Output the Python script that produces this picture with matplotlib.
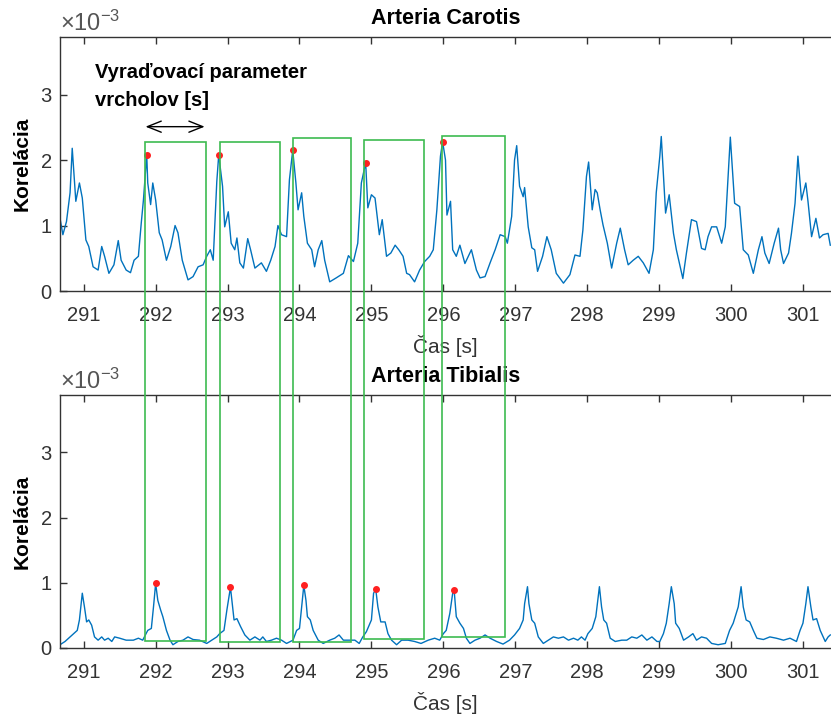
"""
Korelácia – Arteria Carotis vs. Arteria Tibialis, detekcia vrcholov.
Hodnoty odčítané z grafu (jednotky x10^-3).
"""

import matplotlib
matplotlib.use("Agg")
import matplotlib.pyplot as plt
from matplotlib.patches import Rectangle

plt.rcParams["font.family"] = ["Liberation Sans", "DejaVu Sans"]
plt.rcParams["mathtext.fontset"] = "custom"
plt.rcParams["mathtext.rm"] = "Liberation Sans"
plt.rcParams["mathtext.it"] = "Liberation Sans:italic"

# ----------------------------------------------------------------------
# dáta (čas [s], korelácia x10^-3)
# ----------------------------------------------------------------------
car_t = [290.67, 290.71, 290.76, 290.81, 290.84, 290.89, 290.94, 290.98, 291.03, 291.07,
         291.13, 291.20, 291.25, 291.29, 291.35, 291.42, 291.48, 291.52, 291.59, 291.65,
         291.70, 291.76, 291.80, 291.83, 291.876, 291.89, 291.93, 291.96, 292.00, 292.05,
         292.09, 292.15, 292.21, 292.27, 292.31, 292.37, 292.45, 292.52, 292.59, 292.66,
         292.71, 292.76, 292.80, 292.85, 292.877, 292.93, 292.96, 293.01, 293.05, 293.10,
         293.13, 293.17, 293.22, 293.28, 293.32, 293.38, 293.47, 293.54, 293.60, 293.66,
         293.70, 293.75, 293.82, 293.86, 293.906, 293.95, 293.98, 294.03, 294.06, 294.11,
         294.17, 294.21, 294.26, 294.31, 294.35, 294.42, 294.51, 294.61, 294.68, 294.75,
         294.81, 294.86, 294.92, 294.95, 295.00, 295.05, 295.11, 295.15, 295.21, 295.27,
         295.33, 295.38, 295.44, 295.49, 295.53, 295.60, 295.67, 295.74, 295.81, 295.86,
         295.91, 295.96, 295.99, 296.03, 296.05, 296.10, 296.13, 296.18, 296.23, 296.30,
         296.39, 296.46, 296.51, 296.58, 296.65, 296.72, 296.79, 296.86, 296.89, 296.95,
         296.99, 297.02, 297.06, 297.11, 297.13, 297.18, 297.23, 297.27, 297.31, 297.38,
         297.44, 297.50, 297.57, 297.67, 297.76, 297.83, 297.90, 297.94, 297.99, 298.02,
         298.07, 298.11, 298.14, 298.18, 298.22, 298.28, 298.34, 298.41, 298.46, 298.52,
         298.57, 298.64, 298.71, 298.78, 298.86, 298.92, 298.96, 299.01, 299.03, 299.09,
         299.14, 299.20, 299.24, 299.33, 299.38, 299.45, 299.52, 299.59, 299.64, 299.68,
         299.73, 299.80, 299.87, 299.92, 299.96, 299.99, 300.05, 300.12, 300.17, 300.24,
         300.31, 300.38, 300.43, 300.47, 300.53, 300.60, 300.66, 300.69, 300.73, 300.80,
         300.84, 300.89, 300.93, 300.98, 301.04, 301.07, 301.12, 301.18, 301.23, 301.28,
         301.35, 301.38]
car_v = [1.11, 0.86, 1.06, 1.50, 2.18, 1.37, 1.65, 1.42, 0.78, 0.68,
         0.37, 0.32, 0.68, 0.53, 0.27, 0.40, 0.77, 0.47, 0.32, 0.28,
         0.47, 0.53, 1.04, 1.39, 2.08, 1.65, 1.32, 1.65, 1.39, 0.89,
         0.78, 0.47, 0.68, 1.00, 0.89, 0.47, 0.17, 0.22, 0.37, 0.40,
         0.53, 0.63, 0.47, 1.67, 2.08, 1.60, 0.98, 1.21, 0.73, 0.63,
         0.81, 0.43, 0.35, 0.80, 0.63, 0.35, 0.43, 0.30, 0.47, 0.68,
         1.00, 0.86, 0.83, 1.70, 2.15, 1.65, 1.24, 1.50, 1.14, 0.73,
         0.63, 0.37, 0.63, 0.77, 0.47, 0.14, 0.20, 0.27, 0.54, 0.45,
         0.73, 1.65, 1.96, 1.27, 1.47, 1.42, 0.86, 1.09, 0.53, 0.58,
         0.70, 0.63, 0.53, 0.27, 0.25, 0.14, 0.32, 0.45, 0.53, 0.63,
         1.24, 2.06, 2.28, 2.00, 1.16, 1.37, 0.63, 0.53, 0.70, 0.42,
         0.63, 0.32, 0.20, 0.22, 0.43, 0.63, 0.86, 0.83, 0.73, 1.14,
         2.00, 2.22, 1.60, 1.44, 1.58, 0.98, 0.66, 0.63, 0.30, 0.53,
         0.83, 0.63, 0.27, 0.12, 0.25, 0.55, 0.53, 0.93, 1.75, 1.97,
         1.24, 1.55, 1.50, 1.24, 1.01, 0.73, 0.35, 0.73, 0.96, 0.63,
         0.40, 0.47, 0.53, 0.43, 0.27, 0.63, 1.50, 2.06, 2.36, 1.19,
         1.47, 0.88, 0.63, 0.19, 0.58, 1.09, 1.06, 0.65, 0.63, 0.83,
         0.98, 0.98, 0.73, 0.98, 1.75, 2.35, 1.34, 1.29, 0.63, 0.55,
         0.27, 0.63, 0.83, 0.58, 0.42, 0.73, 0.96, 0.63, 0.42, 0.58,
         0.88, 1.34, 2.06, 1.39, 1.65, 1.37, 0.83, 1.11, 0.81, 0.86,
         0.88, 0.70]

tib_t = [290.67, 290.74, 290.81, 290.86, 290.91, 290.94, 290.98, 291.01, 291.04, 291.07,
         291.11, 291.15, 291.20, 291.25, 291.29, 291.34, 291.39, 291.43, 291.50, 291.59,
         291.69, 291.76, 291.82, 291.89, 291.94, 291.97, 292.00, 292.03, 292.07, 292.10,
         292.15, 292.20, 292.24, 292.31, 292.38, 292.45, 292.52, 292.61, 292.71, 292.78,
         292.85, 292.89, 292.95, 292.99, 293.04, 293.06, 293.09, 293.13, 293.18, 293.24,
         293.31, 293.38, 293.45, 293.49, 293.54, 293.61, 293.68, 293.75, 293.82, 293.91,
         293.96, 294.00, 294.03, 294.06, 294.09, 294.11, 294.15, 294.19, 294.26, 294.33,
         294.42, 294.49, 294.55, 294.61, 294.70, 294.77, 294.83, 294.88, 294.93, 295.00,
         295.03, 295.06, 295.09, 295.13, 295.19, 295.23, 295.28, 295.35, 295.42, 295.51,
         295.60, 295.69, 295.79, 295.88, 295.95, 296.00, 296.04, 296.09, 296.13, 296.15,
         296.18, 296.23, 296.28, 296.32, 296.37, 296.44, 296.51, 296.58, 296.65, 296.74,
         296.83, 296.92, 296.99, 297.06, 297.11, 297.13, 297.17, 297.19, 297.23, 297.27,
         297.32, 297.39, 297.46, 297.53, 297.60, 297.67, 297.74, 297.81, 297.87, 297.92,
         297.97, 298.01, 298.07, 298.12, 298.17, 298.20, 298.23, 298.27, 298.32, 298.39,
         298.48, 298.55, 298.62, 298.69, 298.76, 298.83, 298.90, 298.97, 299.01, 299.06,
         299.10, 299.14, 299.17, 299.21, 299.23, 299.28, 299.34, 299.41, 299.47, 299.52,
         299.59, 299.66, 299.73, 299.82, 299.92, 299.98, 300.03, 300.10, 300.14, 300.17,
         300.21, 300.26, 300.31, 300.36, 300.45, 300.54, 300.63, 300.73, 300.82, 300.91,
         300.96, 301.00, 301.04, 301.07, 301.11, 301.14, 301.19, 301.24, 301.31, 301.35,
         301.38]
tib_v = [0.05, 0.10, 0.17, 0.22, 0.27, 0.43, 0.84, 0.63, 0.40, 0.43,
         0.35, 0.17, 0.12, 0.17, 0.12, 0.15, 0.10, 0.17, 0.15, 0.12,
         0.12, 0.15, 0.12, 0.27, 0.30, 0.63, 0.99, 0.73, 0.58, 0.48,
         0.27, 0.12, 0.05, 0.10, 0.12, 0.17, 0.13, 0.12, 0.07, 0.12,
         0.17, 0.22, 0.27, 0.58, 0.93, 0.73, 0.43, 0.45, 0.33, 0.20,
         0.12, 0.17, 0.12, 0.17, 0.10, 0.12, 0.15, 0.12, 0.07, 0.12,
         0.27, 0.30, 0.63, 0.96, 0.73, 0.48, 0.43, 0.27, 0.12, 0.07,
         0.12, 0.15, 0.20, 0.12, 0.12, 0.12, 0.07, 0.17, 0.25, 0.43,
         0.84, 0.90, 0.63, 0.40, 0.40, 0.22, 0.12, 0.05, 0.12, 0.12,
         0.10, 0.07, 0.12, 0.15, 0.12, 0.22, 0.27, 0.53, 0.84, 0.89,
         0.48, 0.38, 0.30, 0.15, 0.07, 0.12, 0.15, 0.20, 0.15, 0.10,
         0.06, 0.12, 0.20, 0.30, 0.43, 0.68, 0.94, 0.68, 0.43, 0.38,
         0.17, 0.07, 0.12, 0.17, 0.15, 0.17, 0.12, 0.15, 0.12, 0.17,
         0.12, 0.22, 0.30, 0.48, 0.94, 0.63, 0.43, 0.38, 0.15, 0.10,
         0.12, 0.12, 0.17, 0.15, 0.20, 0.12, 0.17, 0.10, 0.10, 0.22,
         0.38, 0.68, 0.94, 0.68, 0.38, 0.30, 0.12, 0.17, 0.22, 0.12,
         0.17, 0.15, 0.07, 0.05, 0.07, 0.27, 0.38, 0.63, 0.94, 0.63,
         0.43, 0.40, 0.27, 0.15, 0.13, 0.17, 0.15, 0.12, 0.15, 0.10,
         0.27, 0.38, 0.68, 0.94, 0.63, 0.43, 0.45, 0.27, 0.10, 0.17,
         0.20]

# detegované vrcholy
car_peak_t = [291.876, 292.877, 293.906, 294.92, 295.99]
car_peak_v = [2.08, 2.08, 2.15, 1.96, 2.28]
tib_peak_t = [292.00, 293.04, 294.06, 295.06, 296.15]
tib_peak_v = [0.99, 0.93, 0.96, 0.90, 0.89]

# okná vyraďovacieho parametra (čas od-do, horná hrana v carotis, dolná v tibialis)
box_left = [291.85, 292.89, 293.91, 294.89, 295.98]
box_right = [292.70, 293.73, 294.71, 295.73, 296.86]
box_top = [2.27, 2.28, 2.33, 2.30, 2.36]
box_bottom = [0.10, 0.09, 0.09, 0.14, 0.17]

x_ticks = list(range(291, 302))
y_ticks = [0, 1, 2, 3]
x_lim = (290.67, 301.39)
y_lim = (0, 3.88)

LINE = "#0072BD"
AXC = "#333333"
GREEN = "#3DBB50"

fig = plt.figure(figsize=(8.31, 7.18), dpi=100)
ax1 = fig.add_axes([0.0722, 0.5947, 0.9278, 0.3538])
ax2 = fig.add_axes([0.0722, 0.0975, 0.9278, 0.3524])


def style(ax, title):
    ax.set_xlim(*x_lim)
    ax.set_ylim(*y_lim)
    ax.set_xticks(x_ticks)
    ax.set_yticks(y_ticks)
    ax.tick_params(direction="in", length=5, width=1, colors=AXC,
                   labelsize=14.5, top=True, pad=6)
    ax.tick_params(axis="x", pad=11)
    for s in ["left", "bottom", "top"]:
        ax.spines[s].set_color(AXC)
        ax.spines[s].set_linewidth(1)
    ax.spines["right"].set_visible(False)
    ax.set_xlabel("Čas [s]", fontsize=15, color=AXC, labelpad=7)
    ax.set_ylabel("Korelácia", fontsize=15, fontweight="bold", color="black",
                  labelpad=6)
    ax.set_title(title, fontsize=15.5, fontweight="bold", pad=9)
    ax.text(0.0, 1.006, r"$\times10^{-3}$", transform=ax.transAxes,
            fontsize=17, color="#555555", ha="left", va="bottom")


ax1.plot(car_t, car_v, color=LINE, linewidth=1.0)
ax1.plot(car_peak_t, car_peak_v, "o", color="#FF2020", markersize=4, zorder=5)
style(ax1, "Arteria Carotis")

ax2.plot(tib_t, tib_v, color=LINE, linewidth=1.0)
ax2.plot(tib_peak_t, tib_peak_v, "o", color="#FF2020", markersize=4, zorder=5)
style(ax2, "Arteria Tibialis")

# popis a šípka
ax1.text(291.15, 3.13, "Vyraďovací parameter\nvrcholov [s]", fontsize=14.5,
         fontweight="bold", ha="left", va="center", linespacing=1.6)
ax1.annotate("", xy=(291.82, 2.51), xytext=(292.72, 2.51),
             arrowprops=dict(arrowstyle="<->,head_length=1.0,head_width=0.4",
                             color="black", lw=1))

# zelené okná cez oba grafy
inv = fig.transFigure.inverted()
for l, r, t, b in zip(box_left, box_right, box_top, box_bottom):
    x0, y1 = inv.transform(ax1.transData.transform((l, t)))
    x1, _ = inv.transform(ax1.transData.transform((r, t)))
    _, y0 = inv.transform(ax2.transData.transform((l, b)))
    fig.patches.append(Rectangle((x0, y0), x1 - x0, y1 - y0, transform=fig.transFigure,
                                 fill=False, edgecolor=GREEN, linewidth=1.2, zorder=10))

fig.savefig("out.png", dpi=100)
